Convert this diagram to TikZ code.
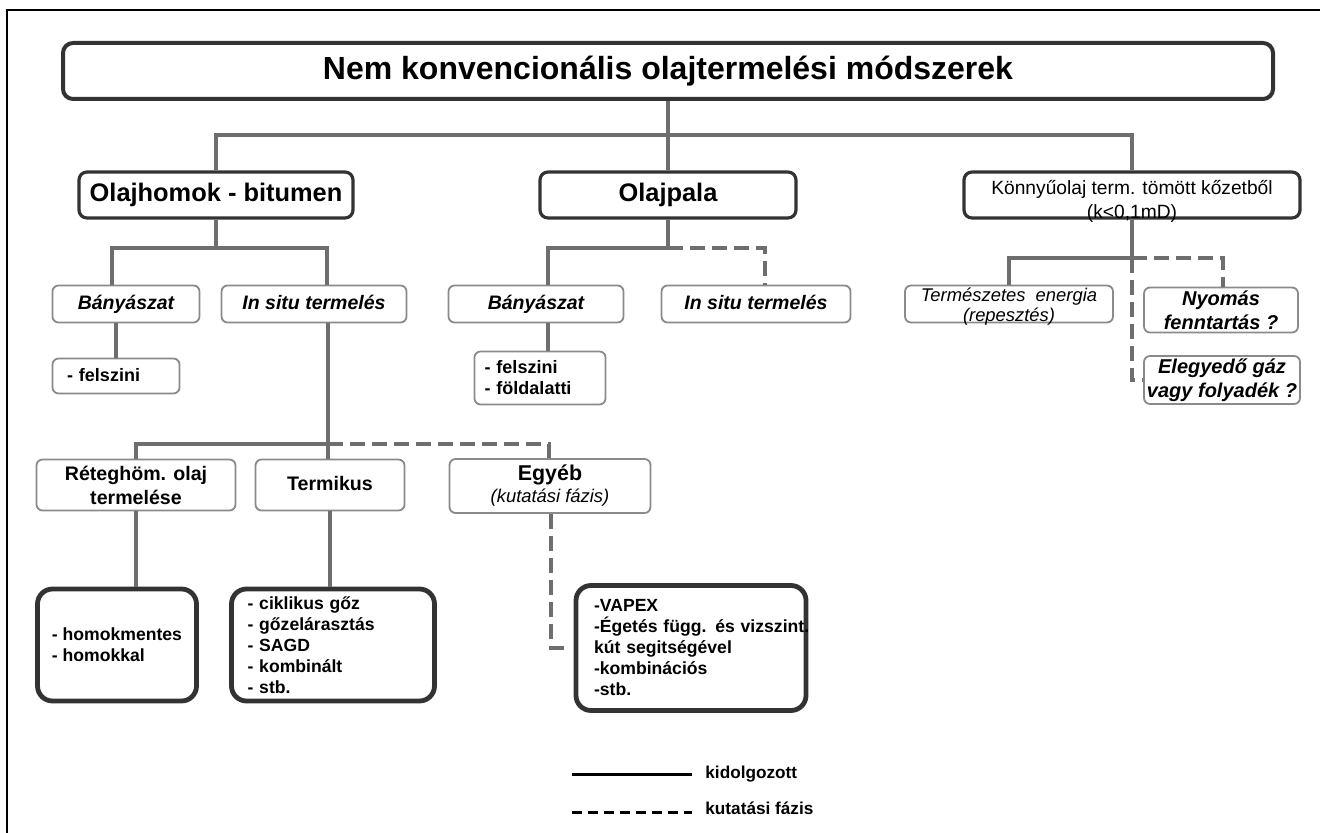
\documentclass[tikz,border=0pt]{standalone}
\usepackage{fontspec}
\setmainfont{Liberation Sans}
\usetikzlibrary{calc}
\definecolor{linegray}{HTML}{6E6E6E}
\definecolor{boxdark}{HTML}{333333}
\definecolor{boxgray}{HTML}{8A8A8A}

\begin{document}
\begin{tikzpicture}[
  x=0.5pt, y=-0.5pt,
  conn/.style = {draw=linegray, line width=2pt},
  dconn/.style = {conn, dash pattern=on 7.5pt off 3.5pt},
  titlenode/.style = {rectangle, rounded corners=5pt, draw=boxdark,
    line width=2pt, fill=white, minimum width=605pt, minimum height=28pt,
    font=\fontsize{16}{18}\selectfont\bfseries},
  mainnode/.style = {rectangle, rounded corners=4pt, draw=boxdark,
    line width=1.6pt, fill=white, minimum height=23pt, inner sep=1pt,
    font=\fontsize{12.7}{15}\selectfont\bfseries, align=center},
  subnode/.style = {rectangle, rounded corners=3pt, draw=boxgray,
    line width=0.9pt, fill=white, minimum height=18.5pt, inner sep=1pt,
    font=\fontsize{9.75}{12}\selectfont\bfseries\itshape, align=center},
  oneline/.style = {text height=7.4pt, text depth=2.2pt},
  listnode/.style = {rectangle, rounded corners=7.5pt, draw=boxdark,
    line width=2.4pt, fill=white, inner sep=1pt,
    font=\fontsize{8.8}{10.5}\selectfont\bfseries, align=left},
  legline/.style = {draw=black, line width=1.5pt},
  legtext/.style = {font=\fontsize{8.6}{10}\selectfont\bfseries, anchor=west, inner sep=0pt},
]
\useasboundingbox (0,0) rectangle (1320,833);
\draw[black, line width=1pt] (1320,10) -- (7,10) -- (7,833);

% Title
\node[titlenode] (title) at (668,71) {Nem konvencionális olajtermelési módszerek};

% Main groups (top row)
\node[mainnode, minimum width=137pt] (homok) at (216,195) {Olajhomok - bitumen};
\node[mainnode, minimum width=128pt] (pala)  at (668,195) {Olajpala};
\node[mainnode, minimum width=168pt,
  label={[font=\fontsize{9.6}{12}\selectfont, align=center, yshift=-3pt]center:
    Könnyűolaj term. tömött kőzetből\\(k<0,1mD)}] (konny) at (1132,195) {};

% Second row
\node[subnode, oneline, minimum width=73.5pt] (banL) at (126,304) {Bányászat};
\node[subnode, oneline, minimum width=92.5pt] (insL) at (314,304) {In situ termelés};
\node[subnode, oneline, minimum width=87.5pt] (banM) at (536,304) {Bányászat};
\node[subnode, oneline, minimum width=94.5pt] (insM) at (756,304) {In situ termelés};
\node[subnode, minimum width=104pt,
  label={[font=\fontsize{9.2}{10}\selectfont\itshape, align=center, yshift=-1.2pt]center:
    Természetes\ \ energia\\(repesztés)}] (termesz) at (1009,304) {};
\node[subnode, minimum width=77pt, minimum height=22.5pt,
  font=\fontsize{10}{12}\selectfont\bfseries\itshape] (nyomas) at (1221,310)
  {Nyomás\\fenntartás ?};
\node[subnode, minimum width=78pt, minimum height=24pt,
  font=\fontsize{10}{12}\selectfont\bfseries\itshape] (elegy) at (1222,380)
  {Elegyedő gáz\\vagy folyadék ?};

% Mining details
\node[subnode, oneline, minimum width=63.5pt, minimum height=17.5pt, align=left,
  text width=49pt, inner xsep=7.25pt,
  font=\fontsize{9}{10.5}\selectfont\bfseries] (felszL) at (116,376) {- felszini};
\node[subnode, minimum width=65.5pt, minimum height=26.5pt, align=left,
  text width=55.5pt, inner xsep=5pt,
  font=\fontsize{9}{10.5}\selectfont\bfseries] (felszM) at (540,378)
  {- felszini\\- földalatti};

% In situ methods
\node[subnode, minimum width=99.5pt, minimum height=25.5pt,
  font=\fontsize{9.8}{12}\selectfont\bfseries] (reteg) at (136,485)
  {Réteghöm. olaj\\termelése};
\node[subnode, oneline, minimum width=74.5pt, minimum height=25.5pt,
  font=\fontsize{9.8}{12}\selectfont\bfseries] (termik) at (330,485) {Termikus};
\node[subnode, minimum width=100.5pt, minimum height=27pt,
  font=\fontsize{9.2}{11}\selectfont\itshape] (egyeb) at (550,486)
  {{\fontsize{10.7}{11}\selectfont\upshape\bfseries Egyéb}\\(kutatási fázis)};

% Lists (bottom row)
\node[listnode, minimum width=79.5pt, minimum height=56pt] (homlist) at (117,645)
  {- homokmentes\\- homokkal};
\node[listnode, minimum width=101.5pt, minimum height=56pt,
  text width=85.5pt, inner xsep=8pt] (termlist) at (333,645)
  {- ciklikus gőz\\- gőzelárasztás\\- SAGD\\- kombinált\\- stb.};
\node[listnode, minimum width=115pt, minimum height=62.5pt,
  text width=97pt, inner xsep=9pt] (vapex) at (691,648)
  {-VAPEX\\\mbox{-Égetés függ. és vizszint.}\\kút segitségével\\-kombinációs\\-stb.};

% Title -> main groups
\coordinate (jtop) at (668,135);
\draw[conn] (title.south) -- (pala.north);
\draw[conn] (homok.north) |- (jtop) -| (konny.north);
% Olajhomok branches
\coordinate (jhom) at (216,248);
\draw[conn] (homok.south) -- (jhom);
\draw[conn] ($(banL.north)+(-14,0)$) |- (jhom) -| ($(insL.north)+(13,0)$);
% Olajpala branches
\coordinate (jpala) at (668,248);
\draw[conn] (pala.south) -- (jpala) -| ($(banM.north)+(12,0)$);
\draw[dconn] (jpala) -| ($(insM.north)+(9,0)$);
% Könnyűolaj branches
\coordinate (jkon) at (1132,258);
\draw[conn] (konny.south) -- (jkon) -| (termesz.north);
\draw[dconn] (jkon) -| ($(nyomas.north)+(2,0)$);
\draw[dconn] (jkon) |- (elegy.west);
% Mining details
\draw[conn] (felszL.north |- banL.south) -- (felszL.north);
\draw[conn] ($(banM.south)+(12,0)$) -- ($(felszM.north)+(8,0)$);
% In situ branches
\coordinate (jins) at (328,444);
\draw[conn] ($(insL.south)+(14,0)$) -- (jins) -| (reteg.north);
\draw[conn] (jins) -- (jins |- termik.north);
\draw[dconn] (jins) -| ($(egyeb.north)+(-1,0)$);
% Methods -> lists
\draw[conn] (reteg.south) -- (reteg.south |- homlist.north);
\draw[conn] (termik.south) -- (termik.south |- termlist.north);
\draw[dconn] ($(egyeb.south)+(1,0)$) |- ($(vapex.west)+(-8,0)$);

% Legend
\coordinate (lgsA) at (572,774);
\coordinate (lgsB) at (692,774);
\coordinate (lgdA) at (572,812);
\coordinate (lgdB) at (692,812);
\node[legtext] (kidol) at (705,774) {kidolgozott};
\node[legtext] (kutat) at (705,808) {kutatási fázis};
\draw[legline] (lgsA) -- (lgsB);
\draw[legline, dash pattern=on 5pt off 3pt] (lgdA) -- (lgdB);
\end{tikzpicture}
\end{document}
